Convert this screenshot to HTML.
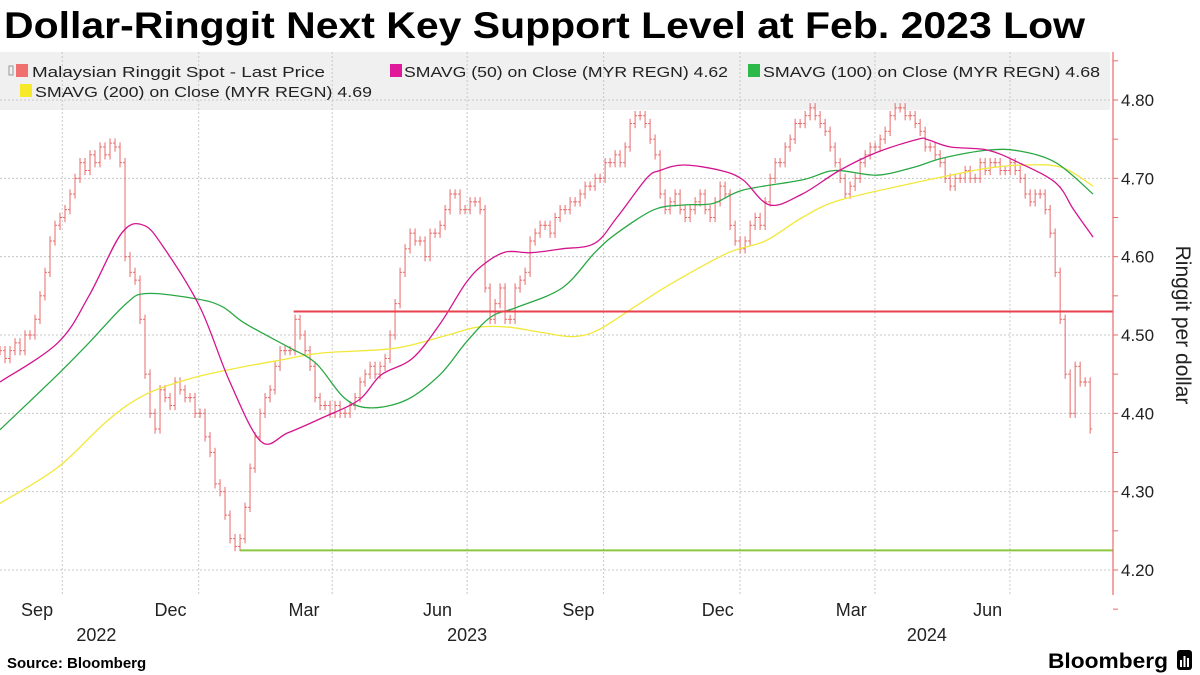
<!DOCTYPE html>
<html><head><meta charset="utf-8">
<style>
html,body{margin:0;padding:0;background:#fff;}
svg{display:block;font-family:"Liberation Sans Narrow","Liberation Sans",sans-serif;}
</style></head>
<body>
<svg id="chart" width="1200" height="675" viewBox="0 0 1200 675" xmlns="http://www.w3.org/2000/svg">
  <text x="4" y="38" font-family="Liberation Sans, sans-serif" font-weight="bold" font-size="37" textLength="1081" lengthAdjust="spacingAndGlyphs" fill="#000">Dollar-Ringgit Next Key Support Level at Feb. 2023 Low</text>
  <rect x="0" y="52" width="1110" height="58" fill="#f0f0f0"/>
  <g id="grid"></g>
  <g id="legend">
    <g>
      <rect x="9" y="66" width="4" height="9" fill="none" stroke="#999" stroke-width="1"/>
      <rect x="16" y="64" width="12" height="13" fill="#f07070"/>
      <text x="32" y="77" font-size="15" textLength="293" lengthAdjust="spacingAndGlyphs" fill="#222">Malaysian Ringgit Spot - Last Price</text>
    </g>
    <g>
      <rect x="390" y="64" width="12" height="13" fill="#e0189a"/>
      <text x="404" y="77" font-size="15" textLength="324" lengthAdjust="spacingAndGlyphs" fill="#222">SMAVG (50)  on Close (MYR REGN) 4.62</text>
    </g>
    <g>
      <rect x="748" y="64" width="12" height="13" fill="#2db84a"/>
      <text x="763" y="77" font-size="15" textLength="337" lengthAdjust="spacingAndGlyphs" fill="#222">SMAVG (100)  on Close (MYR REGN) 4.68</text>
    </g>
    <g>
      <rect x="20" y="84" width="12" height="13" fill="#f5e92a"/>
      <text x="35" y="97" font-size="15" textLength="337" lengthAdjust="spacingAndGlyphs" fill="#222">SMAVG (200)  on Close (MYR REGN) 4.69</text>
    </g>
  </g>
  <g id="plot"></g>
  <g id="yaxis"></g>
  <g id="xaxis"></g>
  <text transform="translate(1176,325) rotate(90)" text-anchor="middle" font-family="Liberation Sans, sans-serif" font-size="21" fill="#222">Ringgit per dollar</text>
  <text x="7" y="668" font-family="Liberation Sans, sans-serif" font-weight="bold" font-size="15" fill="#000">Source: Bloomberg</text>
  <text x="1168" y="668" text-anchor="end" font-family="Liberation Sans, sans-serif" font-weight="bold" font-size="21" fill="#000" textLength="120" lengthAdjust="spacingAndGlyphs">Bloomberg</text>
  <g>
    <rect x="1177" y="650" width="15" height="20" rx="3" fill="#000"/>
    <rect x="1180" y="660" width="2" height="7" fill="#fff"/>
    <rect x="1183.5" y="656" width="2" height="11" fill="#fff"/>
    <rect x="1187" y="658" width="2" height="9" fill="#fff"/>
  </g>
</svg>
<script>
// ---- data ----
const priceStepDays = 3.372;
const priceCloses = [4.48,4.47,4.48,4.49,4.48,4.50,4.50,4.52,4.55,4.58,4.62,4.64,4.65,4.66,4.68,4.70,4.72,4.71,4.73,4.72,4.74,4.73,4.745,4.74,4.72,
4.60,4.58,4.57,4.52,4.45,4.40,4.38,4.43,4.42,4.41,4.44,4.43,4.42,4.42,4.40,4.40,4.37,4.35,4.31,4.30,4.27,4.24,4.23,4.24,4.28,4.33,4.37,4.40,4.42,4.43,4.46,4.48,4.48,4.48,4.52,4.50,4.48,4.46,4.42,4.41,4.41,4.40,4.41,4.40,4.40,4.41,4.42,4.44,4.45,4.46,4.45,4.46,4.47,4.50,4.54,4.58,4.61,4.63,4.62,4.62,4.60,4.63,4.63,4.64,4.66,4.68,4.68,4.66,4.66,4.67,4.67,4.66,4.56,4.52,4.54,4.56,4.52,4.52,4.56,4.57,4.58,4.62,4.63,4.64,4.64,4.63,4.65,4.66,4.66,4.67,4.67,4.68,4.69,4.69,4.70,4.70,4.72,4.72,4.73,4.72,4.74,4.77,4.78,4.78,4.77,4.75,4.73,4.68,4.66,4.67,4.68,4.66,4.65,4.66,4.67,4.68,4.66,4.65,4.67,4.69,4.68,4.64,4.62,4.61,4.62,4.64,4.65,4.64,4.67,4.70,4.72,4.72,4.74,4.75,4.77,4.77,4.78,4.79,4.78,4.77,4.76,4.74,4.72,4.70,4.68,4.69,4.70,4.72,4.73,4.74,4.74,4.75,4.76,4.78,4.79,4.79,4.78,4.78,4.77,4.76,4.74,4.74,4.73,4.72,4.70,4.69,4.70,4.70,4.71,4.70,4.70,4.72,4.71,4.72,4.72,4.71,4.71,4.72,4.71,4.70,4.68,4.67,4.68,4.68,4.66,4.63,4.58,4.52,4.45,4.40,4.46,4.44,4.44,4.38];
const sma50Days = [0,39,60,82,97,111,135,155,176,194,217,242,257,278,297,314,326,341,358,379,401,416,436,445,461,486,501,519,541,566,591,619,626,641,666,687,712,724,737];
const sma50Values = [4.44,4.49,4.55,4.63,4.64,4.61,4.535,4.44,4.364,4.375,4.394,4.417,4.449,4.47,4.515,4.566,4.59,4.606,4.605,4.61,4.617,4.65,4.70,4.71,4.717,4.71,4.698,4.666,4.68,4.71,4.733,4.75,4.749,4.74,4.736,4.72,4.694,4.66,4.625];
const sma100Days = [0,37,60,85,99,133,150,165,194,213,232,249,274,297,314,331,348,379,401,416,441,461,481,501,541,563,591,616,636,666,687,712,737];
const sma100Values = [4.379,4.446,4.49,4.54,4.553,4.546,4.536,4.515,4.485,4.464,4.42,4.407,4.417,4.45,4.49,4.523,4.535,4.56,4.605,4.63,4.66,4.666,4.668,4.685,4.698,4.71,4.704,4.714,4.726,4.736,4.735,4.72,4.68];
const sma200Days = [0,39,72,97,126,155,189,217,266,302,322,343,366,386,403,428,453,491,516,541,566,616,641,666,691,716,737];
const sma200Values = [4.285,4.331,4.39,4.423,4.443,4.456,4.468,4.477,4.483,4.50,4.51,4.51,4.503,4.498,4.506,4.536,4.566,4.605,4.62,4.65,4.672,4.694,4.704,4.713,4.717,4.714,4.69];
const supportLevels = [4.53, 4.225];
const supportStartDays = [198, 162];
const yTicks = [4.20,4.30,4.40,4.50,4.60,4.70,4.80];
const yTickLabels = ["4.20","4.30","4.40","4.50","4.60","4.70","4.80"];
const gridDays = [42,134,224,315,407,499,590,681];
const monthLabels = ["Sep","Dec","Mar","Jun","Sep","Dec","Mar","Jun"];
const monthLabelDays = [25,115,205,295,390,484,574,666];
const yearLabels = ["2022","2023","2024"];
const yearLabelDays = [65,315,625];

// ---- scales ----
const PX_PER_DAY = 1.483, X0 = 0;
function xScale(d){ return X0 + d*PX_PER_DAY; }
function yScale(v){ return 100 + (4.80 - v) * 783.3; }
const NS = "http://www.w3.org/2000/svg";
function mk(tag, attrs, parent){ const e=document.createElementNS(NS,tag); for(const k in attrs) e.setAttribute(k,attrs[k]); parent.appendChild(e); return e; }
const grid=document.getElementById('grid'), plot=document.getElementById('plot'), yaxis=document.getElementById('yaxis'), xaxis=document.getElementById('xaxis');
const AXIS_X = 1113;

yTicks.forEach((v,i)=>{
  const l=mk('line',{x1:0,x2:1110,y1:yScale(v),y2:yScale(v),stroke:'#c8c8c8','stroke-width':1,'stroke-dasharray':'2,2'},grid);
  
  
});
gridDays.forEach(d=>{
  const l=mk('line',{x1:xScale(d),x2:xScale(d),y1:52,y2:595,stroke:'#c8c8c8','stroke-width':1,'stroke-dasharray':'2,2'},grid);
  
  
});

priceCloses.forEach((c,i)=>{
  const prev = i>0 ? priceCloses[i-1] : c;
  const hi = Math.max(prev,c)+0.006, lo = Math.min(prev,c)-0.006;
  const x = xScale(i*priceStepDays);
  const g=mk('g',{stroke:'#e86a6a','stroke-width':1},plot);
  
  
  mk('line',{x1:x,x2:x,y1:yScale(hi),y2:yScale(lo)},g);
  mk('line',{x1:x-2,x2:x,y1:yScale(prev),y2:yScale(prev)},g);
  mk('line',{x1:x,x2:x+2,y1:yScale(c),y2:yScale(c)},g);
});

function line(days, vals, color, name){
  const P = days.map((d,i)=>[xScale(d), yScale(vals[i])]);
  let dstr = 'M'+P[0][0].toFixed(1)+','+P[0][1].toFixed(1);
  for(let i=0;i<P.length-1;i++){
    const p0=P[Math.max(0,i-1)], p1=P[i], p2=P[i+1], p3=P[Math.min(P.length-1,i+2)];
    const c1=[p1[0]+(p2[0]-p0[0])/6, p1[1]+(p2[1]-p0[1])/6];
    const c2=[p2[0]-(p3[0]-p1[0])/6, p2[1]-(p3[1]-p1[1])/6];
    dstr += ' C'+c1[0].toFixed(1)+','+c1[1].toFixed(1)+' '+c2[0].toFixed(1)+','+c2[1].toFixed(1)+' '+p2[0].toFixed(1)+','+p2[1].toFixed(1);
  }
  const p=mk('path',{d:dstr,fill:'none',stroke:color,'stroke-width':1.3},plot);
  
  
}
line(sma200Days, sma200Values, '#f2e83a', 'sma200-line');
line(sma100Days, sma100Values, '#2aa844', 'sma100-line');
line(sma50Days, sma50Values, '#d4148f', 'sma50-line');

const supportColors = ['#e8424e','#8cc63f'];
supportLevels.forEach((v,i)=>{
  const l=mk('line',{x1:xScale(supportStartDays[i]),x2:AXIS_X,y1:yScale(v),y2:yScale(v),stroke:supportColors[i],'stroke-width':2},plot);
  
  
});

const ax=mk('line',{x1:AXIS_X,x2:AXIS_X,y1:52,y2:595,stroke:'#e86a6a','stroke-width':1.2},yaxis);


for(let v=4.15; v<=4.851; v+=0.05){
  const t=mk('line',{x1:AXIS_X,x2:AXIS_X+5,y1:yScale(v),y2:yScale(v),stroke:'#e86a6a','stroke-width':1},yaxis);
  
  
}
yTicks.forEach((v,i)=>{
  const t=mk('text',{x:AXIS_X+8,y:yScale(v)+6,'font-size':17,fill:'#222'},yaxis);
  t.textContent=yTickLabels[i];
  
  
});

monthLabels.forEach((m,i)=>{
  const t=mk('text',{x:xScale(monthLabelDays[i]),y:616,'font-size':18,'text-anchor':'middle',fill:'#222'},xaxis);
  t.textContent=m;
  
  
});
yearLabels.forEach((y,i)=>{
  const t=mk('text',{x:xScale(yearLabelDays[i]),y:641,'font-size':18,'text-anchor':'middle',fill:'#222'},xaxis);
  t.textContent=y;
  
  
});
</script>
</body></html>
